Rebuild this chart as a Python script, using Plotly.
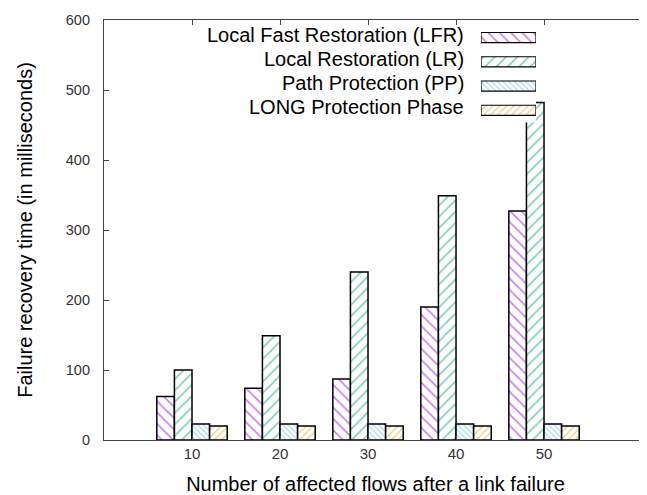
import plotly.graph_objects as go

flows = ["10", "20", "30", "40", "50"]
series_names = ["Local Fast Restoration (LFR)", "Local Restoration (LR)",
                "Path Protection (PP)", "LONG Protection Phase"]
lfr = [62, 74, 87, 190, 327]
lr = [100, 149, 240, 349, 482]
pp = [23, 23, 23, 23, 23]
longp = [20, 20, 20, 20, 20]
y_ticks = [0, 100, 200, 300, 400, 500, 600]

values = [lfr, lr, pp, longp]
colors = ["#9400d3", "#009e73", "#56b4e9", "#e69f00"]
shapes_p = ["\\", "/", "\\", "/"]
sizes = [8, 8, 4, 5]
solid = [0.2, 0.2, 0.32, 0.28]

FONT = "Liberation Sans, Arial, sans-serif"
fig = go.Figure()
for name, vals, c, sh, sz, so in zip(series_names, values, colors, shapes_p, sizes, solid):
    fig.add_trace(go.Bar(
        x=flows, y=vals, name=name, showlegend=False,
        marker=dict(color="white", line=dict(color="black", width=1.5),
                    pattern=dict(shape=sh, fgcolor=c, bgcolor="white", size=sz, solidity=so)),
    ))

# custom legend (samples on the right of the text)
for i, (name, c, sh, sz, so) in enumerate(zip(series_names, colors, shapes_p, sizes, solid)):
    fig.add_trace(go.Bar(
        x=[1], y=[i], orientation="h", width=0.42, xaxis="x2", yaxis="y2",
        showlegend=False, hoverinfo="skip",
        marker=dict(color="white", line=dict(color="black", width=1.2),
                    pattern=dict(shape=sh, fgcolor=c, bgcolor="white", size=sz, solidity=so)),
    ))
    fig.add_annotation(x=0.6667, xref="paper", xanchor="right", y=i - 0.12, yref="y2",
                       yanchor="middle", text=name, showarrow=False,
                       font=dict(family=FONT, size=20, color="black"))

fig.update_layout(
    width=639, height=487,
    margin=dict(l=96, r=0, t=12, b=55),
    plot_bgcolor="white", paper_bgcolor="white",
    barmode="group", bargap=0.2, bargroupgap=0,
    font=dict(family=FONT),
    xaxis=dict(
        type="category", range=[-1, 5.17],
        showline=True, linecolor="#444", linewidth=1.2, mirror="ticks",
        showgrid=False, ticks="inside", ticklen=5, tickcolor="#444", zeroline=False,
        tickfont=dict(family=FONT, size=15, color="#333"),
        title=dict(text="Number of affected flows after a link failure",
                   font=dict(family=FONT, size=20, color="black"), standoff=15),
    ),
    yaxis=dict(
        range=[0, 600], tickvals=y_ticks,
        showline=True, linecolor="#444", linewidth=1.2,
        showgrid=False, zeroline=False,
        ticks="inside", ticklen=5, tickcolor="#444",
        ticklabelstandoff=10,
        tickfont=dict(family=FONT, size=14.5, color="#333"),
        title=dict(text="Failure recovery time (in milliseconds)",
                   font=dict(family=FONT, size=20, color="black"), standoff=27),
    ),
    xaxis2=dict(domain=[0.6943, 0.7956], range=[0, 1], anchor="y2",
                visible=False, fixedrange=True),
    yaxis2=dict(domain=[0.756, 0.987], range=[3.5, -0.5], anchor="x2",
                visible=False, fixedrange=True),
)

fig.write_html("out.html")
